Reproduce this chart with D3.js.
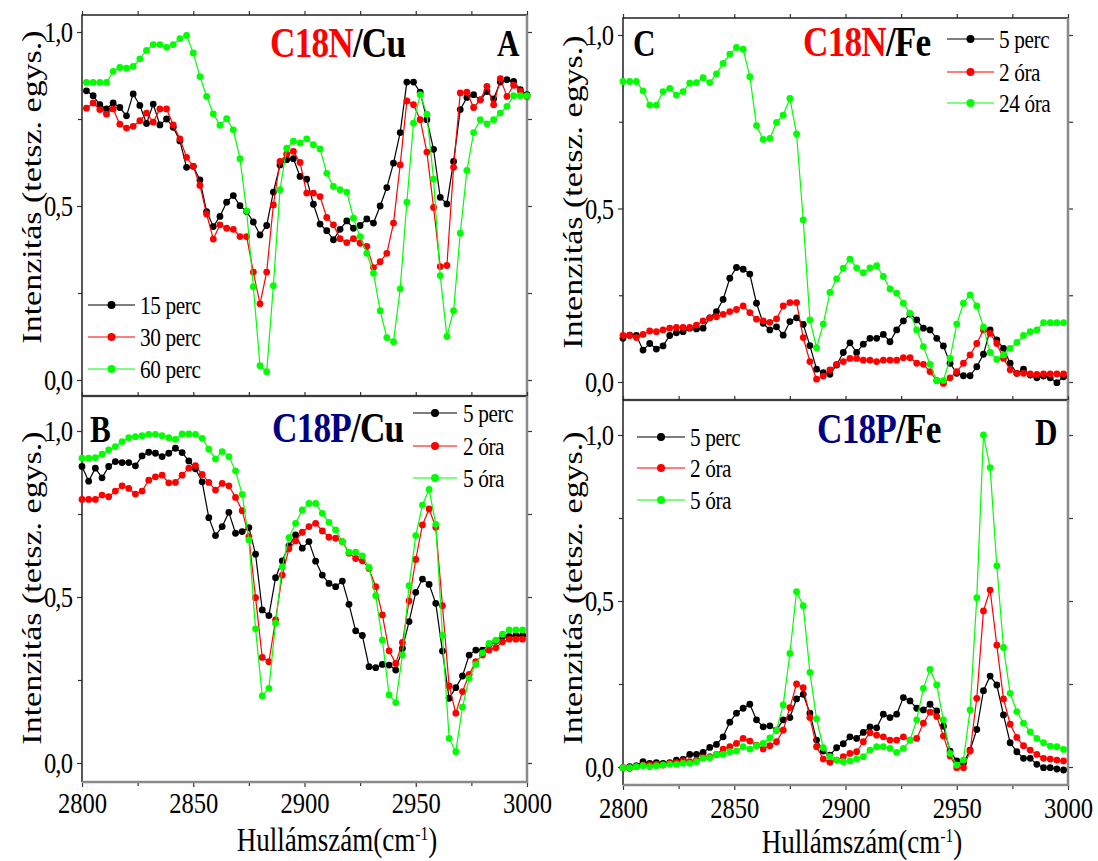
<!DOCTYPE html>
<html lang="hu">
  <head>
    <meta charset="utf-8" />
    <title>C18N / C18P spektrumok</title>
    <script src="https://d3js.org/d3.v7.min.js"></script>
    <style>
      body { margin: 0; background: #ffffff; }
      svg { display: block; font-family: 'Liberation Serif', 'Times New Roman', serif; }
    </style>
  </head>

  <body>
    <svg width="1098" height="861"></svg>
  </body>
  <script>
    // Wavenumber grids (cm-1)
    const wnA = [2802,2805,2808,2811,2814,2817,2820,2823,2826,2829,2832,2835,2838,2841,2844,2847,2850,2853,2856,2859,2862,2865,2868,2871,2874,2877,2880,2883,2886,2889,2892,2895,2898,2901,2904,2907,2910,2913,2916,2919,2922,2925,2928,2931,2934,2937,2940,2943,2946,2949,2952,2955,2958,2961,2964,2967,2970,2973,2976,2979,2982,2985,2988,2991,2994,2997,3000];
    const wn = [2800,2803,2806,2809,2812,2815,2818,2821,2824,2827,2830,2833,2836,2839,2842,2845,2848,2851,2854,2857,2860,2863,2866,2869,2872,2875,2878,2881,2884,2887,2890,2893,2896,2899,2902,2905,2908,2911,2914,2917,2920,2923,2926,2929,2932,2935,2938,2941,2944,2947,2950,2953,2956,2959,2962,2965,2968,2971,2974,2977,2980,2983,2986,2989,2992,2995,2998];

    // Panel A: C18N/Cu
    const a15perc = [0.831,0.817,0.791,0.779,0.796,0.783,0.759,0.822,0.789,0.737,0.793,0.733,0.750,0.726,0.687,0.611,0.614,0.575,0.484,0.441,0.470,0.511,0.530,0.501,0.484,0.454,0.417,0.444,0.540,0.618,0.633,0.636,0.585,0.577,
      0.505,0.448,0.429,0.403,0.433,0.457,0.436,0.444,0.463,0.451,0.500,0.553,0.623,0.711,0.856,0.856,0.827,0.748,0.663,0.525,0.506,0.628,0.777,0.812,0.820,0.805,0.829,0.808,0.856,0.863,0.858,0.834,0.820];
    const a30perc = [0.781,0.796,0.777,0.764,0.779,0.735,0.724,0.729,0.745,0.767,0.741,0.779,0.779,0.733,0.693,0.640,0.614,0.559,0.477,0.405,0.446,0.436,0.433,0.412,0.412,0.310,0.219,0.310,0.503,0.628,0.649,0.657,0.625,0.537,
      0.537,0.527,0.467,0.446,0.406,0.395,0.406,0.393,0.384,0.323,0.340,0.364,0.451,0.618,0.802,0.791,0.748,0.655,0.496,0.326,0.329,0.611,0.825,0.827,0.783,0.805,0.844,0.791,0.866,0.815,0.847,0.831,0.815];
    const a60perc = [0.855,0.855,0.855,0.855,0.887,0.898,0.896,0.901,0.923,0.947,0.964,0.964,0.956,0.964,0.981,0.990,0.940,0.872,0.815,0.765,0.732,0.751,0.719,0.636,0.486,0.268,0.041,0.024,0.271,0.547,0.666,0.686,0.681,0.693,
      0.676,0.664,0.594,0.556,0.547,0.540,0.465,0.412,0.364,0.307,0.199,0.122,0.110,0.262,0.511,0.738,0.820,0.764,0.577,0.300,0.125,0.199,0.422,0.602,0.711,0.748,0.736,0.748,0.767,0.786,0.817,0.817,0.817];

    // Panel B: C18P/Cu
    const b5perc = [0.893,0.849,0.888,0.859,0.893,0.908,0.905,0.905,0.895,0.925,0.936,0.933,0.923,0.933,0.948,0.935,0.910,0.886,0.847,0.739,0.685,0.712,0.755,0.692,0.697,0.709,0.629,0.461,0.444,0.558,0.609,0.654,0.687,0.647,0.667,
      0.608,0.566,0.541,0.531,0.548,0.478,0.398,0.384,0.290,0.287,0.297,0.295,0.280,0.345,0.426,0.514,0.554,0.538,0.481,0.337,0.195,0.227,0.262,0.325,0.340,0.340,0.357,0.367,0.381,0.381,0.384,0.384];
    const b2ora = [0.794,0.794,0.794,0.807,0.802,0.819,0.835,0.827,0.810,0.819,0.852,0.862,0.867,0.844,0.845,0.867,0.888,0.896,0.869,0.845,0.822,0.842,0.835,0.800,0.760,0.682,0.498,0.318,0.305,0.431,0.566,0.645,0.669,0.695,0.712,
      0.722,0.699,0.680,0.677,0.667,0.632,0.616,0.609,0.586,0.531,0.446,0.338,0.300,0.363,0.488,0.613,0.717,0.765,0.710,0.474,0.232,0.150,0.215,0.267,0.305,0.325,0.340,0.347,0.365,0.373,0.373,0.373];
    const b5ora = [0.918,0.918,0.920,0.930,0.943,0.953,0.968,0.980,0.983,0.986,0.990,0.990,0.986,0.980,0.975,0.991,0.991,0.990,0.978,0.945,0.916,0.938,0.923,0.880,0.809,0.672,0.404,0.202,0.225,0.421,0.591,0.679,0.722,0.762,0.782,
      0.782,0.752,0.725,0.702,0.667,0.635,0.635,0.624,0.589,0.504,0.370,0.205,0.182,0.325,0.534,0.685,0.777,0.824,0.719,0.384,0.074,0.034,0.168,0.255,0.297,0.332,0.360,0.370,0.388,0.401,0.401,0.401];

    // Panel C: C18N/Fe
    const c5perc = [0.126,0.135,0.134,0.092,0.111,0.095,0.104,0.134,0.142,0.145,0.155,0.153,0.155,0.185,0.203,0.238,0.299,0.330,0.325,0.311,0.227,0.169,0.150,0.159,0.135,0.174,0.185,0.166,0.105,0.037,0.027,0.022,0.049,0.085,
      0.113,0.085,0.109,0.126,0.126,0.137,0.116,0.150,0.176,0.196,0.179,0.155,0.150,0.126,0.104,0.054,0.025,0.018,0.018,0.044,0.080,0.150,0.121,0.097,0.054,0.025,0.037,0.020,0.012,0.017,0.012,-0.002,0.015];
    const c2ora = [0.134,0.134,0.128,0.137,0.147,0.145,0.150,0.155,0.157,0.157,0.157,0.164,0.176,0.185,0.188,0.195,0.203,0.209,0.219,0.200,0.181,0.176,0.172,0.182,0.219,0.229,0.229,0.128,0.059,0.008,0.017,0.035,0.051,0.059,
      0.068,0.068,0.063,0.063,0.059,0.063,0.063,0.063,0.070,0.070,0.054,0.051,0.030,0.004,-0.004,0.012,0.030,0.054,0.078,0.111,0.150,0.140,0.111,0.068,0.035,0.025,0.025,0.023,0.022,0.023,0.023,0.023,0.023];
    const c24ora = [0.866,0.866,0.866,0.839,0.798,0.798,0.837,0.846,0.827,0.837,0.861,0.863,0.877,0.863,0.888,0.918,0.945,0.964,0.959,0.880,0.739,0.699,0.702,0.748,0.769,0.817,0.715,0.467,0.179,0.099,0.167,0.258,0.297,0.328,
      0.354,0.329,0.315,0.329,0.335,0.304,0.268,0.256,0.227,0.198,0.150,0.102,0.051,0.004,0.004,0.068,0.167,0.227,0.251,0.219,0.158,0.085,0.065,0.078,0.097,0.114,0.134,0.145,0.150,0.171,0.171,0.171,0.171];

    // Panel D: C18P/Fe
    const d5perc = [-0.002,0.001,0.004,0.016,0.011,0.013,0.011,0.013,0.021,0.023,0.038,0.038,0.044,0.059,0.068,0.091,0.135,0.162,0.177,0.189,0.142,0.121,0.124,0.111,0.142,0.149,0.205,0.219,0.162,0.081,0.048,0.036,0.058,0.070,
      0.091,0.086,0.104,0.121,0.118,0.159,0.149,0.159,0.209,0.199,0.177,0.172,0.189,0.169,0.123,0.048,0.018,0.011,0.051,0.113,0.230,0.274,0.247,0.157,0.073,0.046,0.026,0.026,0.008,-0.002,-0.002,-0.006,-0.009];
    const d2ora = [-0.002,-0.004,0.001,0.006,0.006,0.008,0.006,0.011,0.013,0.018,0.016,0.021,0.028,0.031,0.038,0.054,0.061,0.071,0.086,0.078,0.066,0.054,0.064,0.076,0.111,0.179,0.250,0.239,0.149,0.061,0.024,0.014,0.021,0.031,
      0.041,0.046,0.076,0.103,0.096,0.091,0.081,0.081,0.091,0.081,0.086,0.132,0.165,0.152,0.093,0.033,-0.002,-0.002,0.048,0.207,0.470,0.533,0.367,0.205,0.129,0.089,0.064,0.051,0.038,0.026,0.024,0.021,0.018];
    const d5ora = [-0.002,-0.002,0.001,0.004,0.001,0.004,0.006,0.008,0.008,0.011,0.011,0.016,0.026,0.028,0.038,0.038,0.046,0.048,0.061,0.054,0.064,0.071,0.088,0.111,0.187,0.342,0.528,0.486,0.285,0.145,0.058,0.031,0.021,0.016,
      0.018,0.024,0.031,0.051,0.061,0.061,0.056,0.044,0.056,0.081,0.142,0.237,0.294,0.247,0.142,0.041,0.006,0.021,0.172,0.510,1.000,0.902,0.606,0.360,0.222,0.167,0.132,0.106,0.086,0.073,0.063,0.061,0.053];

    // Legend texts and tick labels
    const legendA = ['15 perc', '30 perc', '60 perc'];
    const legendB = ['5 perc', '2 óra', '5 óra'];
    const legendC = ['5 perc', '2 óra', '24 óra'];
    const legendD = ['5 perc', '2 óra', '5 óra'];
    const xTicks = [2800, 2850, 2900, 2950, 3000];
    const xMinorTicks = [2825, 2875, 2925, 2975];
    const yTicks = [0, 0.5, 1.0];
    const yTickLabels = ['0,0', '0,5', '1,0'];
    const yMinorTicks = [0.25, 0.75];

    const colors = ['#000000', '#ff0000', '#00ff00'];
    const squeeze = 0.82;   // the original figure is horizontally compressed
    const svg = d3.select('svg');

    // Layout of the four panels (pixels)
    const panels = [
      { left: 82, right: 527, top: 15, bottom: 396, zero: 380, one: 32, wn: wnA,
        series: [a15perc, a30perc, a60perc], legend: legendA,
        leg: { x0: 88, x1: 135, tx: 140, rows: [305, 337, 369] },
        title: { x: 270, y: 57, parts: [['C18N', '#ff0000'], ['/Cu', '#000000']] },
        letter: { x: 497, y: 56, text: 'A' },
        ytitle: { x: 41, y: 187 }, xLabels: false },
      { left: 82, right: 527, top: 396, bottom: 782, zero: 763, one: 431, wn: wn,
        series: [b5perc, b2ora, b5ora], legend: legendB,
        leg: { x0: 413, x1: 457, tx: 463, rows: [413, 446, 478] },
        title: { x: 272, y: 442, parts: [['C18P', '#000080'], ['/Cu', '#000000']] },
        letter: { x: 90, y: 442, text: 'B' },
        ytitle: { x: 41, y: 588 }, xLabels: true, labelY: 813, xtitle: { x: 337, y: 851 } },
      { left: 623, right: 1068, top: 18, bottom: 400, zero: 382, one: 35, wn: wn,
        series: [c5perc, c2ora, c24ora], legend: legendC,
        leg: { x0: 947, x1: 994, tx: 999, rows: [39, 72, 103] },
        title: { x: 803, y: 56, parts: [['C18N', '#ff0000'], ['/Fe', '#000000']] },
        letter: { x: 633, y: 56, text: 'C' },
        ytitle: { x: 582, y: 192 }, xLabels: false },
      { left: 623, right: 1068, top: 400, bottom: 785, zero: 767, one: 435, wn: wn,
        series: [d5perc, d2ora, d5ora], legend: legendD,
        leg: { x0: 637, x1: 685, tx: 690, rows: [437, 468, 500] },
        title: { x: 817, y: 443, parts: [['C18P', '#000080'], ['/Fe', '#000000']] },
        letter: { x: 1035, y: 445, text: 'D' },
        ytitle: { x: 582, y: 588 }, xLabels: true, labelY: 818, xtitle: { x: 862, y: 853 } }
    ];

    // Text placed at (x, y) and squeezed horizontally like the original
    function squeezedText(parent, x, y, extra) {
      return parent.append('text')
        .attr('transform', `translate(${x},${y}) scale(${squeeze},1)${extra || ''}`);
    }

    function tidyAxis(g) {
      g.attr('font-size', null).attr('font-family', null);
      g.select('.domain').remove();
      g.selectAll('.tick line').attr('stroke', '#333').attr('stroke-width', 1.2);
    }

    function drawPanel(p) {
      const x = d3.scaleLinear().domain([2800, 3000]).range([p.left, p.right]);
      const y = d3.scaleLinear().domain([0, 1]).range([p.zero, p.one]);
      const g = svg.append('g');

      // Ticks on all four sides, pointing outwards
      g.append('g')
        .attr('transform', `translate(0,${p.top})`)
        .call(d3.axisTop(x).tickValues(xTicks.concat(xMinorTicks)).tickSize(4).tickFormat(''))
        .call(tidyAxis);

      g.append('g')
        .attr('transform', `translate(${p.right},0)`)
        .call(d3.axisRight(y).tickValues(yTicks.concat(yMinorTicks)).tickSize(5).tickFormat(''))
        .call(tidyAxis);

      const yAxis = g.append('g')
        .attr('transform', `translate(${p.left},0)`)
        .call(d3.axisLeft(y).tickValues(yTicks).tickSize(5).tickPadding(7)
          .tickFormat((d, i) => yTickLabels[i]))
        .call(tidyAxis);
      yAxis.selectAll('text')
        .attr('font-size', 30).attr('fill', '#000').attr('letter-spacing', -1)
        .attr('transform', `scale(${squeeze},1)`);

      g.append('g')
        .attr('transform', `translate(${p.left},0)`)
        .call(d3.axisLeft(y).tickValues(yMinorTicks).tickSize(4).tickFormat(''))
        .call(tidyAxis);

      if (p.xLabels) {
        const xAxis = g.append('g')
          .attr('transform', `translate(0,${p.bottom})`)
          .call(d3.axisBottom(x).tickValues(xTicks).tickSize(5).tickFormat(d3.format('d')))
          .call(tidyAxis);
        xAxis.selectAll('text')
          .attr('font-size', 30).attr('fill', '#000')
          .attr('y', null).attr('dy', null)
          .attr('transform', `translate(0,${p.labelY - p.bottom}) scale(${squeeze},1)`);

        g.append('g')
          .attr('transform', `translate(0,${p.bottom})`)
          .call(d3.axisBottom(x).tickValues(xMinorTicks).tickSize(4).tickFormat(''))
          .call(tidyAxis);

        const xt = squeezedText(g, p.xtitle.x, p.xtitle.y)
          .attr('text-anchor', 'middle').attr('font-size', 33);
        xt.append('tspan').text('Hullámszám(cm');
        xt.append('tspan').text('-1').attr('font-size', 19).attr('dy', -11);
        xt.append('tspan').text(')').attr('dy', 11);
      }

      // Frame: dark on top/left, grey on right/bottom
      g.append('path')
        .attr('d', `M${p.left},${p.bottom}V${p.top}H${p.right}`)
        .attr('fill', 'none').attr('stroke', '#222').attr('stroke-width', 1.5);
      g.append('path')
        .attr('d', `M${p.right},${p.top}V${p.bottom}H${p.left}`)
        .attr('fill', 'none').attr('stroke', '#8a8a8a').attr('stroke-width', 2.5);

      // Y axis title
      squeezedText(g, p.ytitle.x, p.ytitle.y, ' rotate(-90)')
        .attr('text-anchor', 'middle').attr('font-size', 34)
        .text('Intenzitás (tetsz. egys.)');

      // Series: line plus dots
      const line = d3.line()
        .x((d, i) => x(p.wn[i]))
        .y(d => y(d));
      p.series.forEach((values, k) => {
        const s = g.append('g');
        s.append('path')
          .datum(values)
          .attr('d', line)
          .attr('fill', 'none')
          .attr('stroke', colors[k])
          .attr('stroke-width', 1.2);
        s.selectAll('circle')
          .data(values)
          .join('circle')
          .attr('cx', (d, i) => x(p.wn[i]))
          .attr('cy', d => y(d))
          .attr('r', 3.4)
          .attr('fill', colors[k]);
      });

      // Legend
      p.legend.forEach((label, k) => {
        const ry = p.leg.rows[k];
        g.append('line')
          .attr('x1', p.leg.x0).attr('x2', p.leg.x1)
          .attr('y1', ry).attr('y2', ry)
          .attr('stroke', colors[k]).attr('stroke-width', 1.2);
        g.append('circle')
          .attr('cx', (p.leg.x0 + p.leg.x1) / 2).attr('cy', ry)
          .attr('r', 4).attr('fill', colors[k]);
        squeezedText(g, p.leg.tx, ry + 9)
          .attr('font-size', 26).attr('letter-spacing', -0.5)
          .text(label);
      });

      // Panel title and letter
      const t = squeezedText(g, p.title.x, p.title.y)
        .attr('font-size', 43).attr('font-weight', 'bold').attr('letter-spacing', -1);
      p.title.parts.forEach(part => {
        t.append('tspan').text(part[0]).attr('fill', part[1]);
      });
      squeezedText(g, p.letter.x, p.letter.y)
        .attr('font-size', 38).attr('font-weight', 'bold')
        .text(p.letter.text);
    }

    panels.forEach(drawPanel);
  </script>
</html>
